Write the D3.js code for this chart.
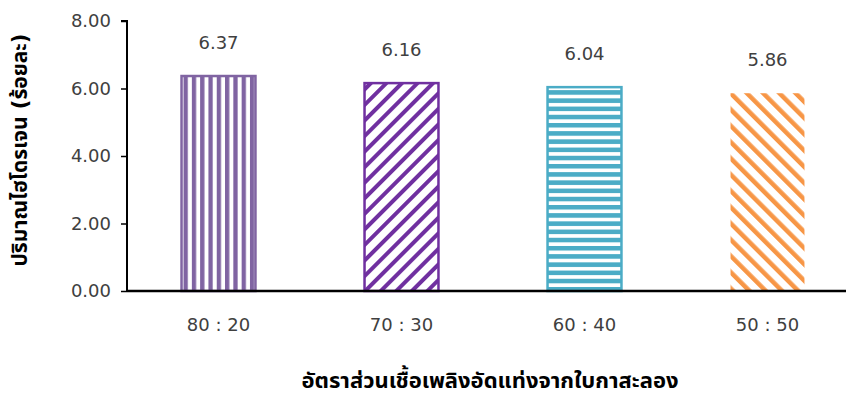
<!DOCTYPE html>
<html><head><meta charset="utf-8">
<script src="https://cdn.jsdelivr.net/npm/d3@7"></script>
<style>body{margin:0;background:#fff}svg{display:block}text{font-family:"DejaVu Sans","Noto Sans Thai",sans-serif}</style>
</head><body><svg id="c" width="847" height="394"></svg>
<script>
const categories = ["80 : 20", "70 : 30", "60 : 40", "50 : 50"];
const values = [6.37, 6.16, 6.04, 5.86];
const yTicks = [0, 2, 4, 6, 8];
const colors = ["#8064A2", "#7030A0", "#4BACC6", "#F79646"];
const yTitle = "ปริมาณไฮโดรเจน (ร้อยละ)";
const xTitle = "อัตราส่วนเชื้อเพลิงอัดแท่งจากใบกาสะลอง";

const svg = d3.select("#c");
const x0 = 127, yTop = 21, yBot = 291;
const x = d3.scaleBand().domain(categories).range([x0, x0 + 183 * 4]).paddingInner(0.596).paddingOuter(0.298);
const y = d3.scaleLinear().domain([0, 8]).range([yBot, yTop]);

const defs = svg.append("defs");
let p = defs.append("pattern").attr("id", "p0").attr("patternUnits", "userSpaceOnUse").attr("width", 8.3).attr("height", 8).attr("x", x(categories[0]) + 2);
p.append("rect").attr("x", 0).attr("y", 0).attr("width", 4.3).attr("height", 8).attr("fill", colors[0]);
p = defs.append("pattern").attr("id", "p1").attr("patternUnits", "userSpaceOnUse").attr("width", 11).attr("height", 11).attr("patternTransform", "rotate(45)");
p.append("rect").attr("x", 0).attr("y", 0).attr("width", 4).attr("height", 11).attr("fill", colors[1]);
p = defs.append("pattern").attr("id", "p2").attr("patternUnits", "userSpaceOnUse").attr("width", 8).attr("height", 8.2).attr("y", y(values[2]) + 3);
p.append("rect").attr("x", 0).attr("y", 0).attr("width", 8).attr("height", 4.6).attr("fill", colors[2]);
p = defs.append("pattern").attr("id", "p3").attr("patternUnits", "userSpaceOnUse").attr("width", 11.5).attr("height", 11.5).attr("patternTransform", "rotate(-45)");
p.append("rect").attr("x", 0).attr("y", 0).attr("width", 4.5).attr("height", 11.5).attr("fill", colors[3]);

const g = svg.append("g");
g.selectAll("rect.bar").data(values).join("rect")
  .attr("class", "bar")
  .attr("x", (d, i) => x(categories[i]))
  .attr("y", d => y(d))
  .attr("width", x.bandwidth())
  .attr("height", d => yBot - y(d))
  .attr("fill", (d, i) => `url(#p${i})`)
  .attr("stroke", (d, i) => i < 3 ? colors[i] : "none")
  .attr("stroke-width", 2.5);

g.selectAll("text.val").data(values).join("text")
  .attr("class", "val")
  .attr("x", (d, i) => x(categories[i]) + x.bandwidth() / 2)
  .attr("y", d => y(d) - 27)
  .attr("text-anchor", "middle")
  .attr("font-size", 18).attr("fill", "#404040")
  .text(d => d.toFixed(2));

const ya = svg.append("g").attr("transform", `translate(${x0},0)`)
  .call(d3.axisLeft(y).tickValues(yTicks).tickFormat(d3.format(".2f")).tickSize(6).tickPadding(10));
ya.select(".domain").attr("stroke", "#000").attr("stroke-width", 2).attr("d", `M-6,${yTop}H0V${yBot}`);
ya.selectAll(".tick line").attr("stroke", "#000").attr("stroke-width", 1.5);
ya.selectAll(".tick text").attr("font-size", 18).attr("fill", "#404040").style("font-family", "'DejaVu Sans',sans-serif");

const xa = svg.append("g").attr("transform", `translate(0,${yBot})`)
  .call(d3.axisBottom(x).tickSize(0).tickPadding(27));
xa.select(".domain").attr("stroke", "#000").attr("stroke-width", 2.5).attr("d", `M${x0},0H846`);
xa.selectAll(".tick text").attr("font-size", 18).attr("fill", "#404040").style("font-family", "'DejaVu Sans',sans-serif");

svg.append("text").attr("transform", `translate(20,${(yTop + yBot) / 2 - 6}) rotate(-90)`)
  .attr("text-anchor", "middle").attr("font-size", 21).attr("font-weight", "bold").attr("fill", "#000")
  .attr("dy", "0.35em").text(yTitle);
svg.append("text").attr("x", 490).attr("y", 388)
  .attr("text-anchor", "middle").attr("font-size", 22).attr("font-weight", "bold").attr("fill", "#000")
  .text(xTitle);
</script></body></html>
